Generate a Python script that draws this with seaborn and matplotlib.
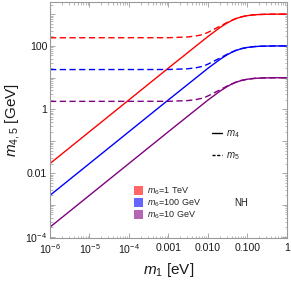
import numpy as np
import pandas as pd
import matplotlib
matplotlib.use("Agg")
import matplotlib.pyplot as plt
import seaborn as sns
from matplotlib.lines import Line2D
from matplotlib.patches import Patch
from matplotlib.ticker import LogLocator, NullFormatter, FixedLocator

# ---- data ----
m1_solid = [1e-6, 1e-3, 0.01, 0.02, 0.03, 0.04, 0.05, 0.07, 0.1, 0.15, 0.2, 0.3, 0.5, 1.0]
m4_1TeV = [0.02, 20, 196, 371, 514, 625, 707, 814, 894, 949, 970, 986, 995, 1000]
m4_100GeV = [0.002, 2, 19.6, 37.1, 51.4, 62.5, 70.7, 81.4, 89.4, 94.9, 97.0, 98.6, 99.5, 100]
m4_10GeV = [0.0002, 0.2, 1.96, 3.71, 5.14, 6.25, 7.07, 8.14, 8.94, 9.49, 9.70, 9.86, 9.95, 10.0]

m1_dashed = [1e-6, 1e-3, 3e-3, 5e-3, 7.5e-3, 0.01, 0.0135, 0.02, 0.03, 0.05, 0.07, 0.1, 0.15, 0.2, 0.3, 0.5, 1.0]
m5_1TeV = [180, 181, 190, 205, 228, 265, 320, 411, 535, 715, 818, 896, 950, 971, 986, 995, 1000]
m5_100GeV = [18.0, 18.1, 19.0, 20.5, 22.8, 26.5, 32.0, 41.1, 53.5, 71.5, 81.8, 89.6, 95.0, 97.1, 98.6, 99.5, 100]
m5_10GeV = [1.80, 1.81, 1.90, 2.05, 2.28, 2.65, 3.20, 4.11, 5.35, 7.15, 8.18, 8.96, 9.50, 9.71, 9.86, 9.95, 10.0]

series_labels = ["$m_6$=1 TeV", "$m_6$=100 GeV", "$m_6$=10 GeV"]
series_colors = ["#ff0000", "#0000ff", "#800080"]
patch_colors = ["#ff6666", "#6666ff", "#b366b3"]

xtick_vals = [1e-6, 1e-5, 1e-4, 1e-3, 1e-2, 1e-1, 1]
xtick_labels = ["$10^{-6}$", "$10^{-5}$", "$10^{-4}$", "0.001", "0.010", "0.100", "1"]
ytick_vals = [1e-4, 1e-3, 1e-2, 1e-1, 1, 10, 100, 1000]
ytick_labels = ["$10^{-4}$", "", "0.01", "", "1", "", "100", ""]

# ---- style ----
sns.set_style("ticks")
plt.rcParams["font.family"] = ["Liberation Sans", "DejaVu Sans"]
plt.rcParams["mathtext.fontset"] = "custom"
plt.rcParams["mathtext.rm"] = "Liberation Sans"
plt.rcParams["mathtext.it"] = "Liberation Sans:italic"
plt.rcParams["mathtext.bf"] = "Liberation Sans:bold"

fig = plt.figure(figsize=(2.91, 2.81), dpi=100)
ax = fig.add_axes([50 / 291, 1 - 237.7 / 281, 236.7 / 291, 235.7 / 281])
ax.set_xscale("log")
ax.set_yscale("log")

solid_df = pd.DataFrame({"m1": m1_solid})
dashed_df = pd.DataFrame({"m1": m1_dashed})
for ys, col in zip([m4_1TeV, m4_100GeV, m4_10GeV], series_colors):
    sns.lineplot(x=solid_df["m1"], y=ys, color=col, lw=1.0, ax=ax, sort=False)
for ys, col in zip([m5_1TeV, m5_100GeV, m5_10GeV], series_colors):
    sns.lineplot(x=dashed_df["m1"], y=ys, color=col, lw=1.0, ax=ax, sort=False,
                 linestyle=(0, (4.5, 2.5)))

ax.set_xlim(1e-6, 1)
ax.set_ylim(9.3e-5, 2400)

ax.xaxis.set_major_locator(FixedLocator(xtick_vals))
ax.set_xticklabels(xtick_labels)
ax.yaxis.set_major_locator(FixedLocator(ytick_vals))
ax.set_yticklabels(ytick_labels)
ax.xaxis.set_minor_locator(LogLocator(base=10, subs=np.arange(2, 10), numticks=100))
ax.yaxis.set_minor_locator(LogLocator(base=10, subs=np.arange(2, 10), numticks=100))
ax.xaxis.set_minor_formatter(NullFormatter())
ax.yaxis.set_minor_formatter(NullFormatter())

grey = "#9a9a9a"
for s in ax.spines.values():
    s.set_color(grey)
    s.set_linewidth(0.8)
ax.tick_params(which="both", direction="in", top=True, right=True, color=grey,
               labelsize=7.6, labelcolor="#1a1a1a")
ax.tick_params(axis="x", which="major", pad=3.5)
ax.tick_params(axis="y", which="major", pad=2)
ax.tick_params(which="major", length=3.5, width=0.6)
ax.tick_params(which="minor", length=1.8, width=0.5)

ax.set_xlabel("$m_1$ [eV]", fontsize=11, labelpad=3, color="#1a1a1a")
ax.set_ylabel("$m_{4,5}$ [GeV]", fontsize=11, labelpad=2, color="#1a1a1a")

# line-style legend
line_handles = [Line2D([], [], color="k", lw=1.0),
                Line2D([], [], color="k", lw=1.0, linestyle=(0, (2.2, 1.2)))]
leg1 = ax.legend(line_handles, ["$m_4$", "$m_5$"], loc="upper left",
                 bbox_to_anchor=(211.5 / 291, 1 - 128 / 281), bbox_transform=fig.transFigure,
                 frameon=False, fontsize=7, handlelength=1.05, handletextpad=0.45,
                 labelspacing=1.1, borderpad=0, borderaxespad=0)
ax.add_artist(leg1)

# colour legend
patch_handles = [Patch(facecolor=c, edgecolor="none") for c in patch_colors]
leg2 = ax.legend(patch_handles, series_labels, loc="upper left",
                 bbox_to_anchor=(133.5 / 291, 1 - 185.5 / 281), bbox_transform=fig.transFigure,
                 frameon=False, fontsize=6.5, handlelength=1.0, handleheight=1.2,
                 handletextpad=0.5, labelspacing=0.05, borderpad=0, borderaxespad=0)

ax.text(0.807, 0.147, "NH", transform=ax.transAxes, ha="center", va="center",
        fontsize=7, color="#1a1a1a")

fig.savefig("out.png", dpi=100)
